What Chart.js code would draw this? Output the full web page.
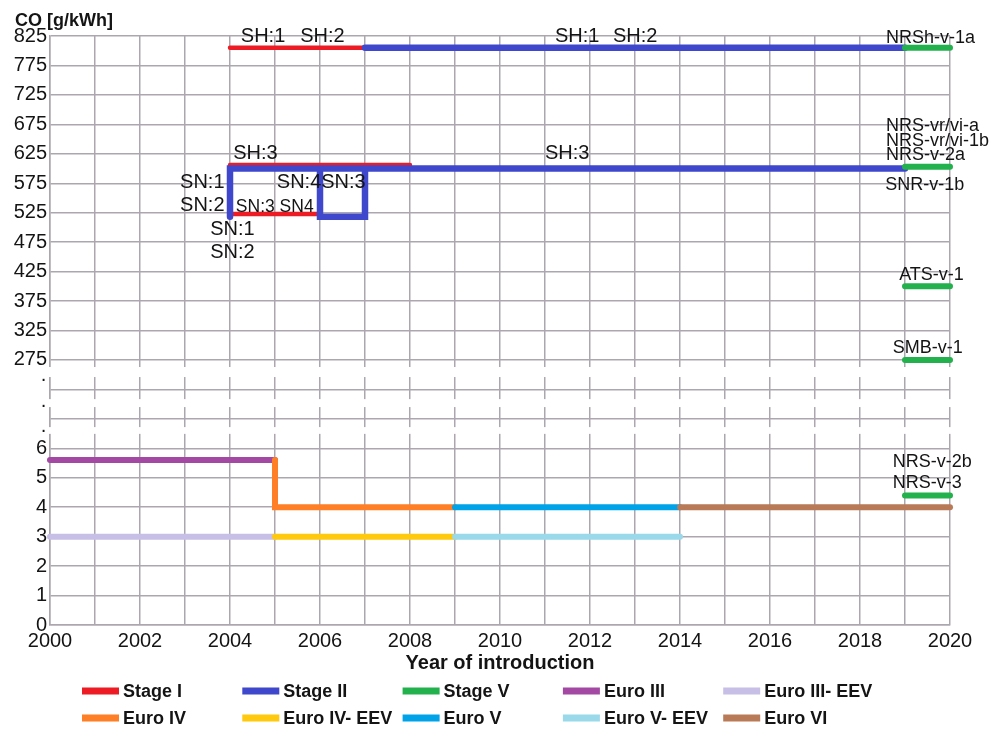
<!DOCTYPE html>
<html>
<head>
<meta charset="utf-8">
<script src="https://cdn.jsdelivr.net/npm/chart.js@4.4.0/dist/chart.umd.min.js"></script>
<style>
  html, body { margin: 0; padding: 0; background: #fff; }
  canvas { display: block; }
</style>
</head>
<body>
<canvas id="chart" width="1006" height="731"></canvas>
<script>
// CO limit values [g/kWh] as [year, value] pairs; null starts a new segment
const stageI     = [[2004, 805], [2007, 805], null, [2004, 606], [2008, 606], null, [2004, 523], [2006, 523]];
const stageII    = [[2007, 805], [2019, 805], null, [2004, 518], [2004, 600], [2019, 600], null,
                    [2006, 600], [2006, 518], [2007, 518], [2007, 600]];
const stageV     = [[2019, 805], [2020, 805], null, [2019, 603], [2020, 603], null, [2019, 400], [2020, 400],
                    null, [2019, 275], [2020, 275], null, [2019, 4.4], [2020, 4.4]];
const euroIII    = [[2000, 5.6], [2005, 5.6]];
const euroIIIEEV = [[2000, 3], [2005, 3]];
const euroIV     = [[2005, 5.6], [2005, 4], [2009, 4]];
const euroIVEEV  = [[2005, 3], [2009, 3]];
const euroV      = [[2009, 4], [2014, 4]];
const euroVEEV   = [[2009, 3], [2014, 3]];
const euroVI     = [[2014, 4], [2020, 4]];

const seriesNames = ['Stage I', 'Stage II', 'Stage V', 'Euro III', 'Euro III- EEV',
                     'Euro IV', 'Euro IV- EEV', 'Euro V', 'Euro V- EEV', 'Euro VI'];

// Axis tick labels: lower band, upper band, labelled years
const lowerTicks = [0, 1, 2, 3, 4, 5, 6];
const upperTicks = [275, 325, 375, 425, 475, 525, 575, 625, 675, 725, 775, 825];
const xLabelYears = [2000, 2002, 2004, 2006, 2008, 2010, 2012, 2014, 2016, 2018, 2020];

// Broken axis: 0..6 sits at the bottom, two blank bands, then 275..825 in steps of 50
const LOWER_MAX = 6;
const UPPER_BASE = 9;     // axis position of the 275 line
const UPPER_MIN = 275;
const UPPER_STEP = 50;
function axisPos(v) {
  return v <= LOWER_MAX ? v : UPPER_BASE + (v - UPPER_MIN) / UPPER_STEP;
}

const FONT = '"Liberation Sans", Arial, Helvetica, sans-serif';
const GRID = '#aca7af';
const INK = '#141414';
Chart.defaults.font.family = FONT;

const styles = [
  { color: '#ed1c24', width: 4.5 },
  { color: '#3f48cc', width: 6.5 },
  { color: '#22b14c', width: 6 },
  { color: '#a349a4', width: 6 },
  { color: '#c8bfe7', width: 6 },
  { color: '#ff7f27', width: 6 },
  { color: '#ffc90e', width: 6 },
  { color: '#00a2e8', width: 6 },
  { color: '#99d9ea', width: 6 },
  { color: '#b97a57', width: 6 }
];
const seriesData = [stageI, stageII, stageV, euroIII, euroIIIEEV, euroIV, euroIVEEV, euroV, euroVEEV, euroVI];

function toPoints(pairs) {
  const out = [];
  let lastX = pairs.find(p => p)[0];
  pairs.forEach(p => {
    if (p) { lastX = p[0]; out.push({ x: p[0], y: axisPos(p[1]) }); }
    else { out.push({ x: lastX, y: null }); }
  });
  return out;
}

const datasets = seriesData.map((d, i) => ({
  label: seriesNames[i],
  data: toPoints(d),
  borderColor: styles[i].color,
  backgroundColor: styles[i].color,
  borderWidth: styles[i].width,
  borderCapStyle: 'round',
  borderJoinStyle: 'miter',
  pointRadius: 0,
  fill: false,
  tension: 0,
  spanGaps: false,
  clip: false,
  order: -i
}));

// Text set beside the limit lines, anchored in data coordinates
const notes = [
  { text: 'SH:1', x: 2004.24, y: 825, size: 20 },
  { text: 'SH:2', x: 2005.56, y: 825, size: 20 },
  { text: 'SH:1', x: 2011.22, y: 825, size: 20 },
  { text: 'SH:2', x: 2012.51, y: 825, size: 20 },
  { text: 'NRSh-v-1a', x: 2018.58, y: 822, size: 18 },
  { text: 'SH:3', x: 2004.07, y: 625, size: 20 },
  { text: 'SH:3', x: 2011.0, y: 625, size: 20 },
  { text: 'SN:1', x: 2002.89, y: 577, size: 20 },
  { text: 'SN:2', x: 2002.89, y: 538, size: 20 },
  { text: 'SN:3 SN4', x: 2004.13, y: 534, size: 17.5 },
  { text: 'SN:4SN:3', x: 2005.04, y: 575.5, size: 20 },
  { text: 'SN:1', x: 2003.56, y: 497, size: 20 },
  { text: 'SN:2', x: 2003.56, y: 458, size: 20 },
  { text: 'NRS-vr/vi-a', x: 2018.58, y: 672, size: 18 },
  { text: 'NRS-vr/vi-1b', x: 2018.58, y: 647, size: 18 },
  { text: 'NRS-v-2a', x: 2018.58, y: 623, size: 18 },
  { text: 'SNR-v-1b', x: 2018.56, y: 572, size: 18 },
  { text: 'ATS-v-1', x: 2018.87, y: 419, size: 18 },
  { text: 'SMB-v-1', x: 2018.73, y: 295, size: 18 },
  { text: 'NRS-v-2b', x: 2018.73, y: 5.53, size: 18 },
  { text: 'NRS-v-3', x: 2018.73, y: 4.82, size: 18 }
];

// y tick positions: both bands, the two blank band lines and the three break dots
const breakDots = [6.6, 7.47, 8.32];
const yTickPositions = [...lowerTicks, 7, 8, ...breakDots, ...upperTicks.map(axisPos)].sort((a, b) => a - b);
const isDot = v => breakDots.some(d => Math.abs(d - v) < 1e-6);

function yLabel(v) {
  if (isDot(v)) return '\u00b7';
  if (v <= LOWER_MAX) return lowerTicks.includes(v) ? String(v) : '';
  if (v < UPPER_BASE - 1e-6) return '';
  return String(Math.round(UPPER_MIN + (v - UPPER_BASE) * UPPER_STEP));
}

// White breaks across the vertical grid lines between the two bands
const axisBreak = {
  id: 'axisBreak',
  beforeDatasetsDraw(chart, args, opts) {
    const { ctx, chartArea: a, scales: { y } } = chart;
    ctx.save();
    ctx.fillStyle = '#fff';
    opts.gaps.forEach(([lo, hi]) => {
      const top = y.getPixelForValue(hi), bottom = y.getPixelForValue(lo);
      ctx.fillRect(a.left - 3, top, a.right - a.left + 6, bottom - top);
    });
    ctx.restore();
  }
};

// Annotation texts and the axis heading
const textLayer = {
  id: 'textLayer',
  afterDatasetsDraw(chart) {
    const { ctx, chartArea: a, scales: { x, y } } = chart;
    ctx.save();
    ctx.fillStyle = INK;
    ctx.textAlign = 'left';
    ctx.textBaseline = 'middle';
    notes.forEach(n => {
      ctx.font = `${n.size}px ${FONT}`;
      ctx.fillText(n.text, x.getPixelForValue(n.x), y.getPixelForValue(axisPos(n.y)));
    });
    ctx.font = `bold 18px ${FONT}`;
    ctx.fillText('CO [g/kWh]', a.left - 35, a.top - 15);
    ctx.restore();
  }
};

// Two-row legend with fixed columns
const gridLegend = {
  id: 'gridLegend',
  afterDraw(chart) {
    const { ctx, chartArea: a } = chart;
    ctx.save();
    ctx.textAlign = 'left';
    ctx.textBaseline = 'middle';
    ctx.font = `bold 18px ${FONT}`;
    chart.data.datasets.forEach((ds, i) => {
      const col = i % 5, row = Math.floor(i / 5);
      const lx = 82 + col * 160.3;
      const ly = a.bottom + 66 + row * 27;
      ctx.fillStyle = ds.borderColor;
      ctx.fillRect(lx, ly - 3.5, 37, 7);
      ctx.fillStyle = INK;
      ctx.fillText(ds.label, lx + 41, ly + 1);
    });
    ctx.restore();
  }
};

new Chart(document.getElementById('chart'), {
  type: 'line',
  data: { datasets },
  options: {
    responsive: false,
    animation: false,
    layout: { padding: { top: 36, right: 56, bottom: 56, left: 0 } },
    plugins: {
      legend: { display: false },
      tooltip: { enabled: false },
      axisBreak: { gaps: [[6.49, 6.72], [7.4, 7.67], [8.42, 8.76]] }
    },
    scales: {
      x: {
        type: 'linear',
        min: 2000,
        max: 2020,
        afterFit: s => { s.height = 50; },
        ticks: {
          stepSize: 1,
          autoSkip: false,
          maxRotation: 0,
          padding: 4,
          color: INK,
          font: { size: 20 },
          callback: v => xLabelYears.includes(v) ? String(v) : ''
        },
        grid: { color: GRID, lineWidth: 1.5, drawTicks: false },
        border: { color: GRID, width: 1.5 },
        title: {
          display: true,
          text: 'Year of introduction',
          color: INK,
          font: { size: 20, weight: 'bold' },
          padding: 0
        }
      },
      y: {
        type: 'linear',
        min: 0,
        max: axisPos(upperTicks[upperTicks.length - 1]),
        afterFit: s => { s.width = 50; },
        afterBuildTicks: s => { s.ticks = yTickPositions.map(v => ({ value: v })); },
        ticks: {
          autoSkip: false,
          padding: 3,
          color: INK,
          font: { size: 20 },
          callback: v => yLabel(v)
        },
        grid: {
          color: c => (c.tick && isDot(c.tick.value)) ? 'rgba(0,0,0,0)' : GRID,
          lineWidth: 1.5,
          drawTicks: false
        },
        border: { color: GRID, width: 1.5 }
      }
    }
  },
  plugins: [axisBreak, textLayer, gridLegend]
});
</script>
</body>
</html>
